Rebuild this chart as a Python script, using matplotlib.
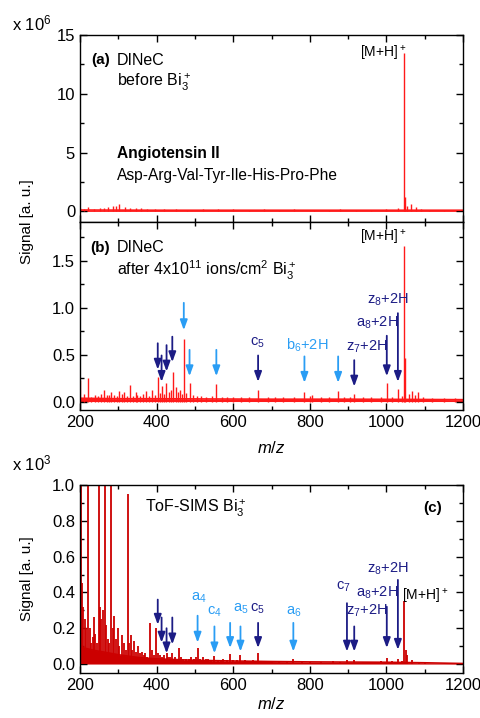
import matplotlib
matplotlib.use("Agg")
import matplotlib.pyplot as plt
from matplotlib.ticker import MultipleLocator

plt.rcParams['font.family'] = ['Liberation Sans', 'DejaVu Sans']
plt.rcParams['mathtext.fontset'] = 'custom'
plt.rcParams['mathtext.rm'] = 'Liberation Sans'
plt.rcParams['mathtext.it'] = 'Liberation Sans:italic'
plt.rcParams['mathtext.bf'] = 'Liberation Sans:bold'

# ---------------- data ----------------
# Panel (a): DINeC before Bi3+ (x 10^6)
peaks_a_mz = [201, 210, 222, 236, 252, 262, 273, 286, 293, 302, 317, 330, 345, 360, 375, 395, 420, 450,
              480, 520, 560, 600, 640, 680, 720, 760, 810, 850, 880, 920, 960, 1000, 1030, 1047, 1049,
              1055, 1065, 1078, 1090, 1110, 1150]
peaks_a_h = [0.25, 0.2, 0.35, 0.2, 0.3, 0.25, 0.4, 0.48, 0.45, 0.62, 0.4, 0.28, 0.3, 0.25, 0.2, 0.2, 0.2, 0.2,
             0.15, 0.2, 0.18, 0.2, 0.15, 0.18, 0.15, 0.18, 0.15, 0.15, 0.2, 0.15, 0.15, 0.2, 0.3, 13.5, 1.2,
             0.5, 0.65, 0.35, 0.2, 0.15, 0.1]
base_a_mz = [200, 400, 600, 800, 1000, 1200]
base_a_h = [0.12, 0.1, 0.1, 0.1, 0.1, 0.1]

# Panel (b): DINeC after 4x10^11 ions/cm^2 Bi3+ (x 10^6)
peaks_b_mz = [201, 210, 222, 230, 240, 248, 256, 263, 270, 276, 282, 290, 297, 303, 310, 316, 323, 331,
              338, 345, 349, 356, 364, 373, 380, 387, 395, 403, 408, 414, 420, 425, 432, 437, 442, 450,
              455, 460, 466, 471, 478, 486, 495, 505, 515, 530, 545, 556, 570, 585, 600, 620, 640, 665,
              690, 710, 730, 760, 786, 800, 807, 830, 850, 874, 890, 905, 916, 940, 960, 985, 1001, 1015,
              1030, 1040, 1047, 1049, 1058, 1066, 1075, 1082, 1095, 1120, 1150, 1180]
peaks_b_h = [0.23, 0.08, 0.25, 0.05, 0.07, 0.06, 0.08, 0.12, 0.07, 0.07, 0.1, 0.07, 0.06, 0.11, 0.08, 0.1,
             0.06, 0.18, 0.06, 0.1, 0.07, 0.06, 0.08, 0.11, 0.06, 0.12, 0.07, 0.26, 0.09, 0.17, 0.08, 0.2,
             0.1, 0.12, 0.31, 0.15, 0.1, 0.12, 0.08, 0.67, 0.09, 0.2, 0.07, 0.06, 0.06, 0.05, 0.06, 0.19,
             0.05, 0.05, 0.05, 0.05, 0.05, 0.12, 0.05, 0.05, 0.05, 0.05, 0.1, 0.06, 0.07, 0.05, 0.05, 0.11,
             0.05, 0.05, 0.08, 0.05, 0.05, 0.05, 0.2, 0.05, 0.13, 0.06, 1.65, 0.46, 0.08, 0.11, 0.07, 0.1,
             0.05, 0.04, 0.04, 0.04]
base_b_mz = [200, 300, 400, 500, 700, 900, 1100, 1200]
base_b_h = [0.035, 0.03, 0.03, 0.028, 0.025, 0.025, 0.022, 0.02]

# Panel (c): ToF-SIMS Bi3+ (x 10^3)
peaks_c_mz = [202, 205, 207, 212, 215, 221, 225, 229, 233, 236, 240, 244, 249, 253, 256, 259, 264, 268,
              272, 276, 282, 286, 289, 293, 298, 303, 309, 314, 320, 325, 329, 332, 337, 342, 347, 351,
              356, 361, 366, 371, 376, 383, 389, 394, 398, 404, 409, 414, 420, 426, 431, 436, 441, 447,
              452, 458, 463, 470, 478, 484, 490, 497, 502, 507, 513, 520, 528, 535, 543, 551, 560, 567,
              574, 583, 592, 600, 610, 619, 630, 640, 652, 665, 680, 700, 720, 740, 757, 780, 800, 830,
              860, 880, 897, 916, 940, 960, 985, 1001, 1015, 1030, 1040, 1047, 1050, 1055, 1068, 1085, 1100]
peaks_c_h = [1.2, 0.45, 0.32, 0.25, 0.2, 1.2, 0.2, 0.12, 0.15, 0.26, 0.17, 0.12, 1.2, 0.32, 0.25, 0.3,
             1.2, 0.22, 0.14, 0.12, 1.2, 0.2, 0.27, 0.14, 0.2, 0.1, 0.16, 0.12, 0.08, 0.95, 0.12, 0.16,
             0.08, 0.13, 0.07, 0.1, 0.06, 0.07, 0.05, 0.06, 0.04, 0.23, 0.08, 0.05, 0.2, 0.06, 0.05, 0.04,
             0.05, 0.06, 0.04, 0.04, 0.06, 0.04, 0.03, 0.09, 0.04, 0.03, 0.03, 0.03, 0.04, 0.03, 0.04,
             0.09, 0.03, 0.04, 0.03, 0.03, 0.025, 0.045, 0.025, 0.02, 0.03, 0.02, 0.055, 0.02, 0.02, 0.05,
             0.02, 0.018, 0.02, 0.06, 0.015, 0.015, 0.013, 0.015, 0.03, 0.012, 0.012, 0.012, 0.015, 0.012,
             0.02, 0.022, 0.012, 0.012, 0.015, 0.035, 0.015, 0.03, 0.015, 0.35, 0.08, 0.05, 0.02, 0.01,
             0.008]
base_c_mz = [200, 210, 220, 240, 260, 280, 300, 320, 340, 360, 380, 400, 450, 500, 600, 700, 800, 900,
             1000, 1100, 1200]
base_c_h = [0.1, 0.09, 0.085, 0.075, 0.068, 0.06, 0.052, 0.046, 0.04, 0.035, 0.032, 0.029, 0.025, 0.021,
            0.017, 0.014, 0.012, 0.011, 0.01, 0.007, 0.003]

# arrows: m/z, top of shaft, arrow tip, colour key
arrows_b_mz = [403, 413, 426, 441, 471, 486, 556, 665, 786, 874, 916, 1001, 1030]
arrows_b_top = [0.62, 0.49, 0.60, 0.69, 1.05, 0.55, 0.55, 0.49, 0.48, 0.48, 0.44, 0.70, 0.94]
arrows_b_tip = [0.34, 0.21, 0.32, 0.42, 0.76, 0.27, 0.27, 0.21, 0.20, 0.20, 0.16, 0.27, 0.21]
arrows_b_kind = ['d', 'd', 'd', 'd', 'l', 'l', 'l', 'd', 'l', 'l', 'd', 'd', 'd']

arrows_c_mz = [403, 413, 426, 441, 507, 551, 592, 619, 665, 757, 897, 916, 1001, 1030]
arrows_c_top = [0.36, 0.26, 0.20, 0.26, 0.27, 0.21, 0.23, 0.21, 0.23, 0.23, 0.34, 0.21, 0.32, 0.47]
arrows_c_tip = [0.22, 0.12, 0.06, 0.11, 0.12, 0.06, 0.09, 0.07, 0.09, 0.07, 0.07, 0.07, 0.09, 0.08]
arrows_c_kind = ['d', 'd', 'd', 'd', 'l', 'l', 'l', 'l', 'd', 'l', 'd', 'd', 'd', 'd']

labels_b = ['c$_5$', 'b$_6$+2H', 'z$_7$+2H', 'a$_8$+2H', 'z$_8$+2H']
labels_b_mz = [663, 793, 948, 976, 1004]
labels_b_y = [0.62, 0.60, 0.58, 0.84, 1.08]
labels_b_kind = ['d', 'l', 'd', 'd', 'd']

labels_c = ['a$_4$', 'c$_4$', 'a$_5$', 'c$_5$', 'a$_6$', 'c$_7$', 'z$_7$+2H', 'a$_8$+2H', 'z$_8$+2H']
labels_c_mz = [509, 551, 620, 663, 757, 888, 948, 976, 1004]
labels_c_y = [0.37, 0.29, 0.31, 0.31, 0.29, 0.43, 0.30, 0.40, 0.53]
labels_c_kind = ['l', 'l', 'l', 'd', 'l', 'd', 'd', 'd', 'd']

# ---------------- style ----------------
RED = '#ff1a1a'
DRED = '#cc0000'
NAVY = '#1c1c85'
LBLUE = '#2a9df4'
KCOL = {'d': NAVY, 'l': LBLUE}

fig = plt.figure(figsize=(4.81, 7.18), dpi=100)
L, W = 80 / 481, 383 / 481
ax_a = fig.add_axes([L, 1 - 222 / 718, W, 187 / 718])
ax_b = fig.add_axes([L, 1 - 410 / 718, W, 188 / 718])
ax_c = fig.add_axes([L, 1 - 673 / 718, W, 188 / 718])


def spectrum(ax, pmz, ph, bmz, bh, col, lw=1.0):
    ax.fill_between(bmz, 0, bh, color=col, lw=0)
    ax.plot(bmz, bh, color=col, lw=1.2)
    ax.vlines(pmz, 0, ph, color=col, lw=lw)


def style(ax, ylim, major, minor, xlabels=True):
    ax.set_xlim(200, 1200)
    ax.set_ylim(*ylim)
    ax.xaxis.set_major_locator(MultipleLocator(200))
    ax.xaxis.set_minor_locator(MultipleLocator(100))
    ax.yaxis.set_major_locator(MultipleLocator(major))
    ax.yaxis.set_minor_locator(MultipleLocator(minor))
    ax.tick_params(which='both', direction='in', top=True, right=True, labelsize=12, width=1)
    ax.tick_params(which='major', length=5)
    ax.tick_params(which='minor', length=3)
    if not xlabels:
        ax.tick_params(labelbottom=False)
    for s in ax.spines.values():
        s.set_linewidth(1)


def arrows(ax, mz, top, tip, kind):
    for m, t, p, k in zip(mz, top, tip, kind):
        ax.annotate('', xy=(m, p), xytext=(m, t),
                    arrowprops=dict(arrowstyle='-|>,head_length=0.6,head_width=0.22',
                                    color=KCOL[k], lw=1.3, shrinkA=0, shrinkB=0))


# panel a
spectrum(ax_a, peaks_a_mz, peaks_a_h, base_a_mz, base_a_h, RED)
style(ax_a, (-0.9, 15), 5, 2.5, xlabels=False)
ax_a.text(278, 12.87, '(a)', fontsize=11, fontweight='bold', ha='right', va='center')
ax_a.text(297, 12.87, 'DINeC', fontsize=11.5, va='center')
ax_a.text(297, 11.0, 'before Bi$_3^+$', fontsize=11.5, va='center')
ax_a.text(297, 4.94, 'Angiotensin II', fontsize=11.2, fontweight='bold', va='center')
ax_a.text(297, 3.07, 'Asp-Arg-Val-Tyr-Ile-His-Pro-Phe', fontsize=11.2, va='center')
ax_a.text(991, 13.1, '[M+H]$^+$', fontsize=10, ha='center', va='baseline')

# panel b
spectrum(ax_b, peaks_b_mz, peaks_b_h, base_b_mz, base_b_h, RED)
style(ax_b, (-0.09, 1.91), 0.5, 0.25)
ax_b.text(278, 1.635, '(b)', fontsize=11, fontweight='bold', ha='right', va='center')
ax_b.text(297, 1.635, 'DINeC', fontsize=11.5, va='center')
ax_b.text(297, 1.40, 'after 4x10$^{11}$ ions/cm$^2$ Bi$_3^+$', fontsize=11.5, va='center')
ax_b.text(991, 1.70, '[M+H]$^+$', fontsize=10, ha='center', va='baseline')
arrows(ax_b, arrows_b_mz, arrows_b_top, arrows_b_tip, arrows_b_kind)
for s, m, y, k in zip(labels_b, labels_b_mz, labels_b_y, labels_b_kind):
    ax_b.text(m, y, s, fontsize=10.5, color=KCOL[k], ha='center', va='center')
ax_b.set_xlabel('$m/z$', fontsize=12, labelpad=7)

# panel c
spectrum(ax_c, peaks_c_mz, peaks_c_h, base_c_mz, base_c_h, DRED, lw=1.3)
style(ax_c, (-0.05, 1.0), 0.2, 0.1)
ax_c.text(370, 0.87, 'ToF-SIMS Bi$_3^+$', fontsize=11.5, va='center')
ax_c.text(1121, 0.87, '(c)', fontsize=11, fontweight='bold', ha='center', va='center')
ax_c.text(1102, 0.38, '[M+H]$^+$', fontsize=10, ha='center', va='center')
arrows(ax_c, arrows_c_mz, arrows_c_top, arrows_c_tip, arrows_c_kind)
for s, m, y, k in zip(labels_c, labels_c_mz, labels_c_y, labels_c_kind):
    ax_c.text(m, y, s, fontsize=10.5, color=KCOL[k], ha='center', va='center')
ax_c.set_xlabel('$m/z$', fontsize=12, labelpad=2)

# y labels and multipliers
fig.text(27 / 481, 1 - 222 / 718, 'Signal [a. u.]', rotation=90, fontsize=11, ha='center', va='center')
fig.text(27 / 481, 1 - 579 / 718, 'Signal [a. u.]', rotation=90, fontsize=11, ha='center', va='center')
fig.text(12 / 481, 1 - 23 / 718, 'x 10$^6$', fontsize=12, ha='left', va='center')
fig.text(12 / 481, 1 - 463 / 718, 'x 10$^3$', fontsize=12, ha='left', va='center')

fig.savefig('out.png', dpi=100)
